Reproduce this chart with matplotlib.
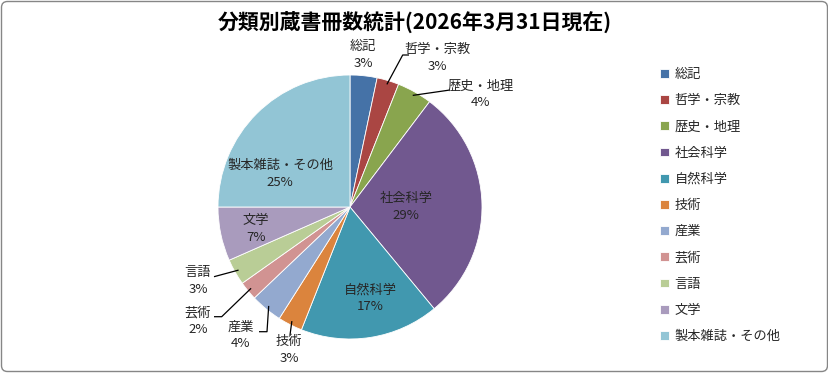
import matplotlib
matplotlib.use('Agg')
import matplotlib.pyplot as plt
import numpy as np
from matplotlib.patches import FancyBboxPatch

plt.rcParams['font.family'] = ['Noto Sans CJK JP', 'DejaVu Sans']

categories = ['総記', '哲学・宗教', '歴史・地理', '社会科学', '自然科学', '技術',
              '産業', '芸術', '言語', '文学', '製本雑誌・その他']
shares = [3.3, 2.7, 4.3, 28.7, 17.0, 3.0, 3.9, 2.3, 3.2, 6.6, 25.0]
colors = ['#4572A7', '#AA4643', '#89A54E', '#71588F', '#4198AF', '#DB843D',
          '#93A9CF', '#D19392', '#B9CD96', '#A99BBD', '#92C5D5']
title = '分類別蔵書冊数統計(2026年3月31日現在)'

W, H = 829, 373
fig = plt.figure(figsize=(W / 100, H / 100), dpi=100)
ax = fig.add_axes([0, 0, 1, 1])


def P(x, y):
    return (x, H - y)


cx, cy = P(350, 207)
R = 132
wedges, _ = ax.pie(shares, colors=colors, startangle=90, counterclock=False,
                   center=(cx, cy), radius=R,
                   wedgeprops=dict(linewidth=0.6, edgecolor='white'))
ax.set_xlim(0, W)
ax.set_ylim(0, H)
ax.set_aspect('equal')
ax.axis('off')

# label layout: text centre (px) and optional leader path (px) after the wedge edge point
layout = {
    0: ((363, 55), None),
    1: ((437, 58), [(402.7, 55), (409, 55)]),
    2: ((481, 94), [(450, 90)]),
    3: ((406, 207), None),
    4: ((370, 298), None),
    5: ((289, 350), [(290, 335)]),
    6: ((241, 335), [(267, 331.7), (259, 331.7)]),
    7: ((198, 321), [(221.7, 316.7), (214, 316.7)]),
    8: ((198, 281), [(214, 276.7)]),
    9: ((256, 229), None),
    10: ((280, 174), None),
}

fs = 9.5
for i, (w, name, s) in enumerate(zip(wedges, categories, shares)):
    (tx, ty), path = layout[i]
    ax.text(*P(tx, ty), f'{name}\n{round(s)}%', ha='center', va='center',
            fontsize=fs, color='#262626', linespacing=1.35)
    if path:
        th = np.deg2rad((w.theta1 + w.theta2) / 2)
        sx, sy = cx + R * 0.97 * np.cos(th), cy + R * 0.97 * np.sin(th)
        pts = [(sx, sy)] + [P(px, py) for px, py in path]
        xs, ys = zip(*pts)
        ax.plot(xs, ys, color='black', lw=0.9, solid_capstyle='butt')

ax.text(*P(415, 22), title, ha='center', va='center', fontsize=15,
        fontweight='bold', color='black')

leg = fig.legend(wedges, categories, loc='upper left',
                 bbox_to_anchor=(660 / W, 1 - 68 / H), frameon=False,
                 fontsize=fs, handlelength=0.65, handleheight=0.65,
                 handletextpad=0.45, labelspacing=1.0, borderpad=0,
                 borderaxespad=0)
for t in leg.get_texts():
    t.set_color('#262626')

border = FancyBboxPatch((1.5, 1.5), W - 3, H - 3,
                        boxstyle='round,pad=0,rounding_size=6',
                        fill=False, edgecolor='#868686', lw=1.0)
ax.add_patch(border)

fig.savefig('out.png', dpi=100)
